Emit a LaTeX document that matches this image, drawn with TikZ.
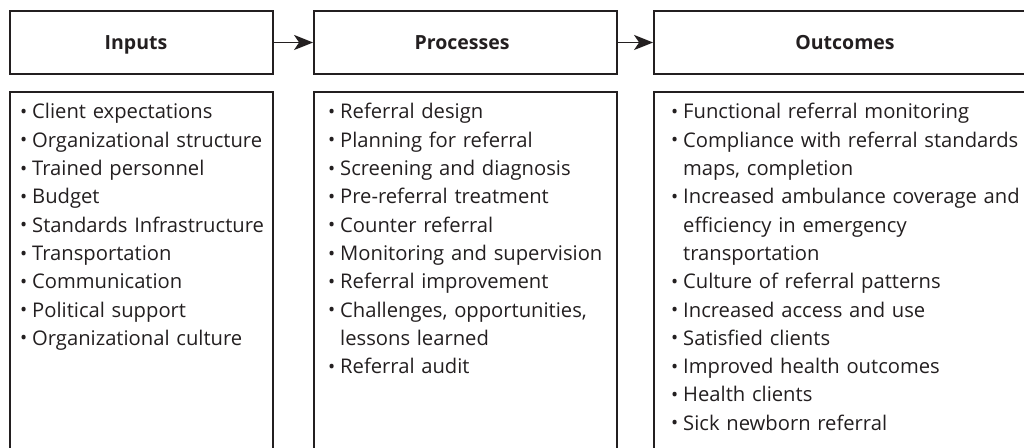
\documentclass[tikz,border=0pt]{standalone}
\usepackage{fontspec}
\setmainfont{Open Sans}[Ligatures={NoCommon}]
\usetikzlibrary{arrows.meta}
\definecolor{ink}{HTML}{231F20}
\newcommand\bul{\makebox[12pt][l]{\raisebox{0.02em}{\fontsize{19}{19}\selectfont •}}}
\newcommand\cont{\hspace*{12pt}}
\begin{document}
\begin{tikzpicture}[x=1pt,y=1pt,
  hbox/.style={draw=ink, line width=1.8pt, minimum height=63pt, inner sep=0pt},
  lbox/.style={draw=ink, line width=1.8pt, minimum height=380pt, inner sep=0pt, anchor=north},
  head/.style={anchor=base, inner sep=0pt, text=ink, font=\fontsize{19.5}{24}\selectfont\bfseries},
  list/.style={anchor=base west, inner sep=0pt, text=ink, align=left, text width=360pt,
    font=\fontsize{20.2}{28.3}\selectfont},
  arr/.style={draw=ink, line width=1.8pt, -{Stealth[length=19pt,width=15pt,inset=5pt]}}]
\useasboundingbox (0,0) rectangle (1024,447);
\node[hbox, minimum width=263pt] (inputs) at (141.5,404.5) {};
\node[hbox, minimum width=303pt] (processes) at (465.5,404.5) {};
\node[hbox, minimum width=380pt] (outcomes) at (844,404.5) {};
\node[head] (tin) at (136,397) {Inputs};
\node[head] (tpr) at (462,397) {Processes};
\node[head] (tou) at (845,397) {Outcomes};
\draw[arr] (inputs.east) -- (processes.west);
\draw[arr] (processes.east) -- (outcomes.west);
\node[lbox, minimum width=263pt] (linputs) at (141.5,356) {};
\node[lbox, minimum width=303pt] (lprocesses) at (465.5,356) {};
\node[lbox, minimum width=380pt] (loutcomes) at (844,356) {};
\node[list] (inlist) at (20,328) {%
\bul Client expectations\\
\bul Organizational structure\\
\bul Trained personnel\\
\bul Budget\\
\bul Standards Infrastructure\\
\bul Transportation\\
\bul Communication\\
\bul Political support\\
\bul Organizational culture};
\node[list] (prlist) at (328,328) {%
\bul Referral design\\
\bul Planning for referral\\
\bul Screening and diagnosis\\
\bul Pre-referral treatment\\
\bul Counter referral\\
\bul Monitoring and supervision\\
\bul Referral improvement\\
\bul Challenges, opportunities,\\
\cont lessons learned\\
\bul Referral audit};
\node[list] (oulist) at (671,328) {%
\bul Functional referral monitoring\\
\bul Compliance with referral standards\\
\cont maps, completion\\
\bul Increased ambulance coverage and\\
\cont efficiency in emergency\\
\cont transportation\\
\bul Culture of referral patterns\\
\bul Increased access and use\\
\bul Satisfied clients\\
\bul Improved health outcomes\\
\bul Health clients\\
\bul Sick newborn referral};
\end{tikzpicture}
\end{document}
